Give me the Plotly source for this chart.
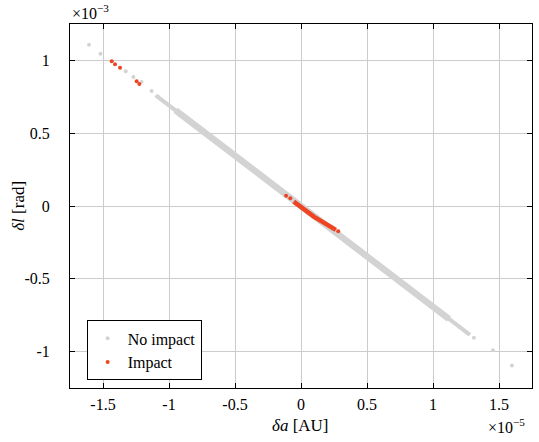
import plotly.graph_objects as go

# Units: da in 1e-5 AU, dl in 1e-3 rad
# Scattered (isolated) no-impact samples
noimp_a = [-1.606, -1.519, -1.328, -1.270, -1.208, -1.132, -1.082, 1.20, 1.25, 1.31, 1.454, 1.598]
noimp_l = [1.108, 1.046, 0.925, 0.886, 0.851, 0.790, 0.749, -0.83, -0.865, -0.905, -0.991, -1.096]

# Dense band of no-impact samples (centre line)
band_a = [-1.10, -0.80, -0.40, 0.0, 0.40, 0.80, 1.28]
band_l = [0.760, 0.553, 0.277, 0.0, -0.277, -0.553, -0.885]
core_a = [-0.95, -0.40, 0.0, 0.40, 1.12]
core_l = [0.657, 0.277, 0.0, -0.277, -0.775]

# Impact samples
imp_a = [-1.434, -1.409, -1.371, -1.245, -1.225, -0.113, -0.081, 0.282]
imp_l = [0.995, 0.973, 0.950, 0.856, 0.838, 0.071, 0.053, -0.173]
imp_band_a = [-0.055, 0.10, 0.264]
imp_band_l = [0.030, -0.075, -0.164]

xtick_vals = [-1.5, -1, -0.5, 0, 0.5, 1, 1.5]
xtick_text = ["-1.5", "-1", "-0.5", "0", "0.5", "1", "1.5"]
ytick_vals = [-1, -0.5, 0, 0.5, 1]
ytick_text = ["-1", "-0.5", "0", "0.5", "1"]

GREY = "#d3d3d3"
RED = "#ee4422"
FONT = "Liberation Serif"

fig = go.Figure()
fig.add_trace(go.Scatter(x=band_a, y=band_l, mode="lines", line=dict(color=GREY, width=4),
                         showlegend=False, hoverinfo="skip"))
fig.add_trace(go.Scatter(x=core_a, y=core_l, mode="lines", line=dict(color=GREY, width=6.5),
                         showlegend=False, hoverinfo="skip"))
fig.add_trace(go.Scatter(x=noimp_a, y=noimp_l, mode="markers", name="No impact",
                         marker=dict(color=GREY, size=4)))
fig.add_trace(go.Scatter(x=imp_band_a, y=imp_band_l, mode="lines", line=dict(color=RED, width=4.5),
                         showlegend=False, hoverinfo="skip"))
fig.add_trace(go.Scatter(x=imp_a, y=imp_l, mode="markers", name="Impact",
                         marker=dict(color=RED, size=4)))

axis_common = dict(showline=True, linecolor="black", linewidth=1, mirror="allticks",
                   ticks="inside", ticklen=5, tickcolor="black", tickwidth=1,
                   showgrid=True, gridcolor="#cccccc", gridwidth=1, zeroline=False,
                   tickfont=dict(family=FONT, size=16, color="black"))

fig.update_xaxes(range=[-1.75, 1.75], tickvals=xtick_vals, ticktext=xtick_text,
                 ticklabelstandoff=2, **axis_common)
fig.update_yaxes(range=[-1.25, 1.25], tickvals=ytick_vals, ticktext=ytick_text,
                 ticklabelstandoff=16, **axis_common)

# axis titles
fig.add_annotation(text="<i>δa</i> [AU]", xref="paper", yref="paper", x=0.498, y=-0.102,
                   xanchor="center", yanchor="middle", showarrow=False,
                   font=dict(family=FONT, size=17, color="black"))
fig.add_annotation(text="<i>δl</i> [rad]", xref="paper", yref="paper", x=-0.113, y=0.5,
                   xanchor="center", yanchor="middle", textangle=-90, showarrow=False,
                   font=dict(family=FONT, size=17, color="black"))

# exponent labels
fig.add_annotation(text="×10<sup>−3</sup>", xref="paper", yref="paper", x=0, y=1,
                   xanchor="left", yanchor="bottom", showarrow=False,
                   font=dict(family=FONT, size=16, color="black"))
fig.add_annotation(text="×10<sup>−5</sup>", xref="paper", yref="paper", x=0.99, y=0,
                   xanchor="right", yanchor="top", yshift=-26, showarrow=False,
                   font=dict(family=FONT, size=16, color="black"))

fig.update_layout(
    width=539, height=442,
    margin=dict(l=70, r=7, t=24, b=54),
    paper_bgcolor="white", plot_bgcolor="white",
    font=dict(family=FONT, color="black"),
    legend=dict(x=0.036, y=0.021, xanchor="left", yanchor="bottom",
                bordercolor="black", borderwidth=1, bgcolor="white",
                font=dict(family=FONT, size=16, color="black"),
                itemwidth=30, tracegroupgap=0),
)

fig.write_html("out.html")
